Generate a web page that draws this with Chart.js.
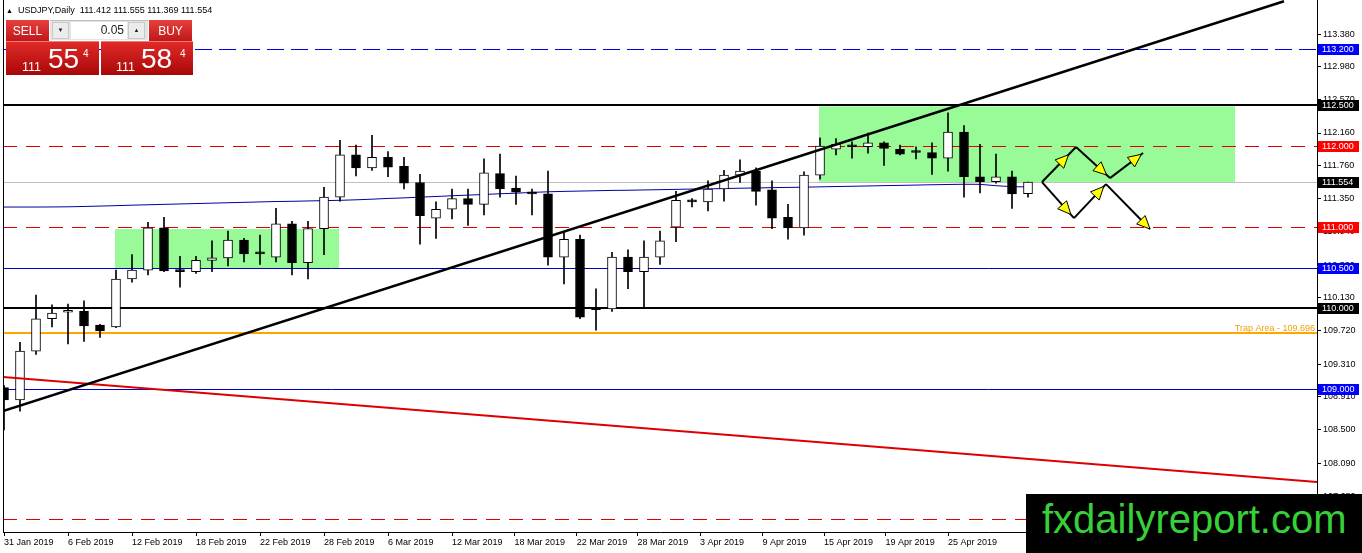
<!DOCTYPE html>
<html>
<head>
<meta charset="utf-8">
<title>USDJPY Daily</title>
<script src="https://cdn.jsdelivr.net/npm/chart.js@4.4.1/dist/chart.umd.min.js"></script>
<style>
    body { margin: 0; background: #fff; font-family: "Liberation Sans", Arial, sans-serif; }
    #wrap { position: relative; width: 1362px; height: 553px; overflow: hidden; }
    #chart { position: absolute; left: 0; top: 0; }
    .abs { position: absolute; line-height: 1; white-space: nowrap; }
    #hdr { left: 18px; top: 6px; font-size: 9px; color: #000; }
    #tri { left: 6px; top: 7px; font-size: 7px; color: #000; }
    .red { background: linear-gradient(#e6403c, #c0181a); color: #fff; }
    .btn { top: 20px; height: 21px; width: 43px; font-size: 12px; text-align: center; }
    .btn span { position: absolute; left: 0; right: 0; top: 5px; line-height: 1; }
    #spin { left: 50px; top: 20px; width: 98px; height: 20px; background: #e4e4e4; border-top: 1px solid #bdbdbd; box-sizing: border-box; }
    .sb { top: 1px; width: 17px; height: 17px; background: #ececec; border: 1px solid #c8c8c8; box-sizing: border-box; font-size: 6px; text-align: center; line-height: 15px; color: #222; }
    #fld { left: 21px; top: 1px; width: 56px; height: 17px; background: #fff; font-size: 12px; text-align: right; line-height: 17px; padding-right: 3px; box-sizing: border-box; color: #222; }
    .px { top: 41px; height: 34px; background: linear-gradient(#e02a28, #a80808); color: #fff; border-top: 1px solid #ef7a78; box-sizing: border-box; }
    .px .s { position: absolute; font-size: 12.5px; line-height: 1; top: 19px; }
    .px .b { position: absolute; font-size: 28px; line-height: 1; top: 3px; }
    .px .u { position: absolute; font-size: 10px; line-height: 1; top: 7px; }
    #wm { left: 1026px; top: 494px; width: 336px; height: 59px; background: #000; }
    #wm span { position: absolute; left: 16px; top: 5px; font-size: 40px; line-height: 40px; color: #38d038; font-family: "Liberation Sans", Arial, sans-serif; }
</style>
</head>
<body>
<div id="wrap">
    <canvas id="chart" width="1362" height="553"></canvas>

    <div class="abs" id="tri">&#9650;</div>
    <div class="abs" id="hdr">USDJPY,Daily&nbsp; 111.412 111.555 111.369 111.554</div>

    <div class="abs btn red" style="left:6px"><span>SELL</span></div>
    <div class="abs" id="spin">
        <div class="abs sb" style="left:2px">&#9660;</div>
        <div class="abs" id="fld">0.05</div>
        <div class="abs sb" style="left:78px">&#9650;</div>
    </div>
    <div class="abs btn red" style="left:149px"><span>BUY</span></div>

    <div class="abs px" style="left:6px;width:93px">
        <span class="s" style="left:16px">111</span><span class="b" style="left:42px">55</span><span class="u" style="left:77px">4</span>
    </div>
    <div class="abs px" style="left:101px;width:92px">
        <span class="s" style="left:15px">111</span><span class="b" style="left:40px">58</span><span class="u" style="left:79px">4</span>
    </div>

    <div class="abs" id="wm"><span>fxdailyreport.com</span></div>
</div>

<script>
    // daily candles, 31 Jan 2019 .. 1 May 2019 (bar index 0..64)
    const opens = [109.02, 108.87, 109.47, 109.87, 109.95, 109.96, 109.79, 109.77, 110.36, 110.47,
                   110.99, 110.47, 110.45, 110.59, 110.62, 110.84, 110.68, 110.63, 111.04, 110.56,
                   110.98, 111.37, 111.89, 111.73, 111.86, 111.75, 111.55, 111.11, 111.22, 111.35,
                   111.28, 111.66, 111.48, 111.43, 111.41, 110.63, 110.85, 109.99, 109.99, 110.63,
                   110.45, 110.63, 111.00, 111.33, 111.31, 111.47, 111.64, 111.69, 111.46, 111.12,
                   110.99, 111.64, 111.96, 112.00, 111.99, 112.04, 111.96, 111.925, 111.92, 111.85,
                   112.17, 111.62, 111.56, 111.62, 111.412];
    const highs = [109.05, 109.58, 110.16, 110.04, 110.05, 110.09, 109.80, 110.47, 110.66, 111.06,
                   111.12, 110.64, 110.64, 110.83, 110.95, 110.86, 110.90, 111.23, 111.07, 111.07,
                   111.49, 112.07, 112.01, 112.13, 111.93, 111.86, 111.65, 111.31, 111.47, 111.47,
                   111.84, 111.90, 111.63, 111.47, 111.69, 110.94, 110.90, 110.24, 110.69, 110.72,
                   110.83, 110.95, 111.44, 111.35, 111.57, 111.70, 111.83, 111.73, 111.57, 111.28,
                   111.68, 112.10, 112.09, 112.05, 112.16, 112.05, 112.01, 111.99, 112.04, 112.41,
                   112.25, 112.02, 111.90, 111.69, 111.555];
    const lows = [108.50, 108.73, 109.43, 109.77, 109.56, 109.59, 109.64, 109.76, 110.32, 110.41,
                  110.45, 110.26, 110.43, 110.45, 110.52, 110.57, 110.54, 110.57, 110.41, 110.36,
                  110.66, 111.32, 111.63, 111.70, 111.62, 111.47, 110.79, 110.86, 111.10, 111.02,
                  111.15, 111.37, 111.28, 111.15, 110.53, 110.30, 109.87, 109.73, 109.96, 110.24,
                  110.02, 110.54, 110.82, 111.25, 111.20, 111.32, 111.55, 111.27, 110.98, 110.85,
                  110.90, 111.59, 111.89, 111.85, 111.91, 111.76, 111.89, 111.84, 111.65, 111.69,
                  111.37, 111.42, 111.54, 111.23, 111.369];
    const closes = [108.87, 109.47, 109.87, 109.94, 109.96, 109.78, 109.72, 110.36, 110.47, 110.99,
                    110.46, 110.45, 110.59, 110.62, 110.84, 110.67, 110.67, 111.04, 110.56, 110.98,
                    111.37, 111.89, 111.73, 111.86, 111.74, 111.54, 111.14, 111.22, 111.35, 111.28,
                    111.67, 111.47, 111.43, 111.41, 110.63, 110.85, 109.89, 109.98, 110.63, 110.45,
                    110.63, 110.83, 111.33, 111.31, 111.47, 111.64, 111.69, 111.44, 111.11, 110.99,
                    111.64, 112.00, 112.02, 111.99, 112.04, 111.97, 111.90, 111.92, 111.85, 112.17,
                    111.62, 111.56, 111.62, 111.41, 111.554];
    // moving average (navy line)
    const maValues = [111.247, 111.247, 111.247, 111.248, 111.250, 111.254, 111.259, 111.264, 111.270, 111.275,
                      111.280, 111.285, 111.290, 111.295, 111.300, 111.305, 111.310, 111.315, 111.318, 111.322,
                      111.326, 111.330, 111.336, 111.344, 111.353, 111.360, 111.369, 111.377, 111.386, 111.394,
                      111.402, 111.411, 111.418, 111.427, 111.435, 111.440, 111.444, 111.448, 111.452, 111.454,
                      111.458, 111.461, 111.465, 111.469, 111.471, 111.475, 111.479, 111.482, 111.486, 111.489,
                      111.492, 111.496, 111.500, 111.503, 111.507, 111.511, 111.514, 111.518, 111.522, 111.525,
                      111.528, 111.527, 111.510, 111.498, 111.495];

    // x axis labels (position on the bar axis -> text)
    const xTickIndex = [0, 4, 8, 12, 16, 20, 24, 28, 31.9, 35.8, 39.6, 43.5, 47.4, 51.25, 55.1, 59];
    const xTickLabels = ['31 Jan 2019', '6 Feb 2019', '12 Feb 2019', '18 Feb 2019', '22 Feb 2019', '28 Feb 2019',
                         '6 Mar 2019', '12 Mar 2019', '18 Mar 2019', '22 Mar 2019', '28 Mar 2019', '3 Apr 2019',
                         '9 Apr 2019', '15 Apr 2019', '19 Apr 2019', '25 Apr 2019'];
    // price scale ticks
    const yTickValues = [113.38, 112.98, 112.57, 112.16, 111.76, 111.35, 110.94, 110.53,
                         110.13, 109.72, 109.31, 108.91, 108.50, 108.09, 107.68];

    // horizontal levels
    const levelPrices = [113.2, 112.5, 112.0, 111.554, 111.0, 110.5, 110.0, 109.696, 109.0, 107.40];
    // price boxes on the right scale
    const boxPrices = [113.2, 112.5, 112.0, 111.554, 111.0, 110.5, 110.0, 109.0];
    const trapPrice = 109.696;

    // trend lines (bar index, price)
    const trendX = [-0.0625, 80];
    const trendY = [108.731, 113.785];
    const redX = [-0.0625, 82.0625];
    const redY = [109.151, 107.856];

    // green zones
    const zoneStart = [6.94, 50.94];
    const zoneEnd = [20.94, 76.94];
    const zoneTop = [110.976, 112.49];
    const zoneBottom = [110.495, 111.543];

    // scenario arrows
    const arrowFromX = [64.875, 67.0, 69.125, 64.875, 66.875, 68.875];
    const arrowFromY = [111.555, 111.987, 111.604, 111.555, 111.111, 111.53];
    const arrowToX = [67.0, 69.125, 71.19, 66.875, 68.875, 71.625];
    const arrowToY = [111.987, 111.604, 111.913, 111.111, 111.53, 110.976];

    const FONT = "'Liberation Sans', Arial, sans-serif";
    const levelStyle = [
        {c: '#0000e0', w: 1, d: [17, 7]},
        {c: '#000000', w: 2},
        {c: '#e00000', w: 1, d: [14, 9]},
        {c: '#c0c0c0', w: 1},
        {c: '#e00000', w: 1, d: [14, 9]},
        {c: '#0000c8', w: 1},
        {c: '#000000', w: 2},
        {c: '#ffa500', w: 2},
        {c: '#0000c8', w: 1},
        {c: '#e00000', w: 1, d: [14, 9]}
    ];
    const boxColors = ['#0000ff', '#000000', '#ff0000', '#000000', '#ff0000', '#0000ff', '#000000', '#0000ff'];

    function drawArrowHead(ctx, x0, y0, x1, y1, t) {
        const ang = Math.atan2(y1 - y0, x1 - x0);
        const tx = x0 + (x1 - x0) * t, ty = y0 + (y1 - y0) * t;
        const len = 13, hw = 6;
        const bx = tx - Math.cos(ang) * len, by = ty - Math.sin(ang) * len;
        ctx.beginPath();
        ctx.moveTo(tx, ty);
        ctx.lineTo(bx + Math.sin(ang) * hw, by - Math.cos(ang) * hw);
        ctx.lineTo(bx - Math.sin(ang) * hw, by + Math.cos(ang) * hw);
        ctx.closePath();
        ctx.fillStyle = '#ffff00';
        ctx.fill();
        ctx.lineWidth = 1;
        ctx.strokeStyle = '#000';
        ctx.stroke();
    }

    const overlay = {
        id: 'overlay',
        beforeDatasetsDraw(chart) {
            const {ctx, chartArea: a, scales: {x, y}} = chart;
            ctx.save();
            ctx.beginPath();
            ctx.rect(a.left, a.top, a.right - a.left, a.bottom - a.top);
            ctx.clip();
            ctx.fillStyle = '#98fb98';
            zoneStart.forEach((s, i) => {
                const x0 = x.getPixelForValue(s), x1 = x.getPixelForValue(zoneEnd[i]);
                const y0 = y.getPixelForValue(zoneTop[i]), y1 = y.getPixelForValue(zoneBottom[i]);
                ctx.fillRect(x0, y0, x1 - x0, y1 - y0);
            });
            levelPrices.forEach((p, i) => {
                const st = levelStyle[i];
                const py = Math.round(y.getPixelForValue(p)) + (st.w % 2 ? 0.5 : 0);
                ctx.strokeStyle = st.c;
                ctx.lineWidth = st.w;
                ctx.setLineDash(st.d || []);
                ctx.beginPath();
                ctx.moveTo(a.left, py);
                ctx.lineTo(a.right, py);
                ctx.stroke();
            });
            ctx.setLineDash([]);
            // trap area label
            ctx.font = '9px ' + FONT;
            ctx.fillStyle = '#f0a000';
            ctx.textAlign = 'right';
            ctx.textBaseline = 'alphabetic';
            ctx.fillText('Trap Area - ' + trapPrice.toFixed(3), a.right - 2, y.getPixelForValue(trapPrice) - 2);
            ctx.restore();
        },
        afterDatasetsDraw(chart) {
            const {ctx, chartArea: a, scales: {x, y}} = chart;
            ctx.save();
            ctx.beginPath();
            ctx.rect(a.left, a.top, a.right - a.left, a.bottom - a.top);
            ctx.clip();
            const heads = [0.78, 0.9, 0.95, 0.9, 0.93, 1.0];
            arrowFromX.forEach((fx, i) => {
                const x0 = x.getPixelForValue(fx), y0 = y.getPixelForValue(arrowFromY[i]);
                const x1 = x.getPixelForValue(arrowToX[i]), y1 = y.getPixelForValue(arrowToY[i]);
                ctx.strokeStyle = '#000';
                ctx.lineWidth = 2;
                ctx.beginPath();
                ctx.moveTo(x0, y0);
                ctx.lineTo(x1, y1);
                ctx.stroke();
                drawArrowHead(ctx, x0, y0, x1, y1, heads[i]);
            });
            ctx.restore();
            // left border
            ctx.save();
            ctx.strokeStyle = '#000';
            ctx.lineWidth = 1;
            ctx.beginPath();
            ctx.moveTo(a.left + 0.5, a.top);
            ctx.lineTo(a.left + 0.5, a.bottom);
            ctx.stroke();
            ctx.restore();
        },
        afterDraw(chart) {
            const {ctx, chartArea: a, scales: {y}} = chart;
            ctx.save();
            ctx.font = '9px ' + FONT;
            ctx.textAlign = 'left';
            ctx.textBaseline = 'middle';
            boxPrices.forEach((p, i) => {
                const py = Math.round(y.getPixelForValue(p));
                ctx.fillStyle = boxColors[i];
                ctx.fillRect(a.right + 1, py - 5, 41, 11);
                ctx.fillStyle = '#fff';
                ctx.fillText(p.toFixed(3), a.right + 5, py + 0.5);
            });
            ctx.restore();
        }
    };

    const bodyData = opens.map((o, i) => ({x: i, y: [o, closes[i]]}));
    const wickData = lows.map((l, i) => ({x: i, y: [l, highs[i]]}));

    new Chart(document.getElementById('chart'), {
        type: 'bar',
        data: {
            datasets: [
                {
                    type: 'line',
                    data: trendX.map((v, i) => ({x: v, y: trendY[i]})),
                    borderColor: '#000', borderWidth: 2.5, pointRadius: 0, order: 0
                },
                {
                    type: 'line',
                    data: redX.map((v, i) => ({x: v, y: redY[i]})),
                    borderColor: '#dd0000', borderWidth: 2, pointRadius: 0, order: 0
                },
                {
                    type: 'bar',
                    data: bodyData,
                    backgroundColor: opens.map((o, i) => closes[i] >= o ? '#ffffff' : '#000000'),
                    borderColor: '#000', borderWidth: 1, borderSkipped: false,
                    barThickness: 9, maxBarThickness: 9, minBarLength: 2, grouped: false, order: 1
                },
                {
                    type: 'bar',
                    data: wickData,
                    backgroundColor: '#000', borderWidth: 0,
                    barThickness: 1, maxBarThickness: 1, grouped: false, order: 2
                },
                {
                    type: 'line',
                    data: maValues.map((v, i) => ({x: i, y: v})),
                    borderColor: '#0000a0', borderWidth: 1, pointRadius: 0, order: 3
                }
            ]
        },
        options: {
            responsive: false,
            animation: false,
            layout: {padding: {left: 3, right: 0, top: 0, bottom: 0}},
            plugins: {legend: {display: false}, tooltip: {enabled: false}},
            scales: {
                x: {
                    type: 'linear',
                    min: -0.0625,
                    max: 82.0625,
                    offset: false,
                    afterBuildTicks: s => { s.ticks = xTickIndex.map(v => ({value: v})); },
                    afterFit: s => { s.height = 21; s.paddingLeft = 0; s.paddingRight = 0; },
                    grid: {drawOnChartArea: false, offset: false, color: '#000', tickLength: 4},
                    border: {display: true, color: '#000'},
                    ticks: {
                        autoSkip: false, maxRotation: 0, align: 'start', padding: 1,
                        color: '#000', font: {family: FONT, size: 9},
                        callback: v => { const k = xTickIndex.indexOf(v); return k < 0 ? '' : xTickLabels[k]; }
                    }
                },
                y: {
                    type: 'linear',
                    position: 'right',
                    min: 107.24,
                    max: 113.80,
                    beginAtZero: false,
                    afterBuildTicks: s => { s.ticks = yTickValues.map(v => ({value: v})); },
                    afterFit: s => { s.width = 45; s.paddingTop = 0; s.paddingBottom = 0; },
                    grid: {drawOnChartArea: false, color: '#000', tickLength: 4},
                    border: {display: true, color: '#000'},
                    ticks: {
                        padding: 2, color: '#000', font: {family: FONT, size: 9},
                        callback: v => v.toFixed(3)
                    }
                }
            }
        },
        plugins: [overlay]
    });
</script>
</body>
</html>
